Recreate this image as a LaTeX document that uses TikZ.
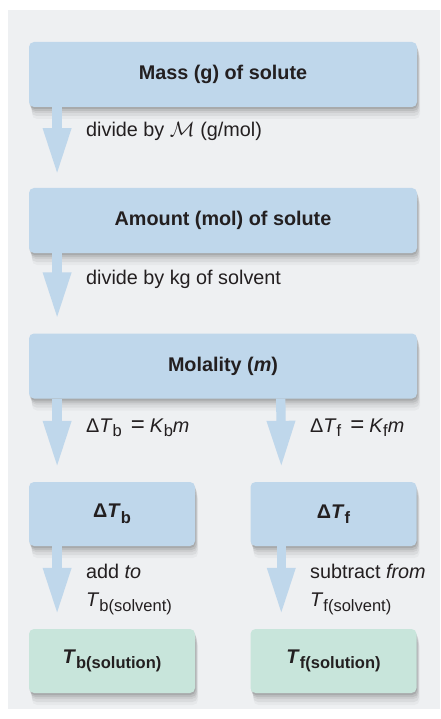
\documentclass[tikz,border=0pt]{standalone}
\usepackage{fontspec}
\setmainfont{Liberation Sans}
\usetikzlibrary{arrows.meta,shadows}
\definecolor{panel}{RGB}{238,240,242}
\definecolor{boxblue}{RGB}{191,215,235}
\definecolor{boxgreen}{RGB}{200,229,219}
\definecolor{ink}{RGB}{35,31,32}
\newcommand\lsub[1]{\raisebox{-5.5pt}{\fontsize{16.5}{18}\selectfont #1}}
\newcommand\msub[1]{\raisebox{-4pt}{\fontsize{16.5}{18}\selectfont #1}}
\newcommand\eqsign{\hspace{9pt}{\fontsize{24}{24}\selectfont=}\hspace{5pt}}
\tikzset{
  softshadow/.style={
    general shadow={shadow yshift=-2pt, shadow xshift=0.5pt, fill=black, opacity=0.10},
    general shadow={shadow yshift=-4pt, shadow xshift=1.5pt, fill=black, opacity=0.08},
    general shadow={shadow yshift=-6pt, shadow xshift=2pt, fill=black, opacity=0.06},
    general shadow={shadow yshift=-9pt, shadow xshift=2.5pt, fill=black, opacity=0.05},
    general shadow={shadow yshift=-12pt, shadow xshift=3pt, fill=black, opacity=0.03}},
  box/.style={rounded corners=5pt, fill=boxblue, inner sep=0pt, softshadow,
    text=ink, font=\fontsize{19.8}{24}\selectfont\bfseries},
  widebox/.style={box, minimum width=388pt, minimum height=65pt},
  smallbox/.style={box, minimum width=166pt, minimum height=64pt},
  greenbox/.style={smallbox, fill=boxgreen},
  lbl/.style={anchor=base west, inner sep=0pt, text=ink, font=\fontsize{19.8}{24}\selectfont},
  flow/.style={draw=boxblue, line width=9.3pt, -{Triangle[width=26pt,length=47pt]}}
}
\begin{document}
\begin{tikzpicture}[x=1pt,y=-1pt]
\useasboundingbox (0,0) rectangle (440,719);
\fill[panel] (8,10) rectangle (440,709);
% boxes
\node[widebox] (b1) at (223,74.5) {Mass (g) of solute};
\node[widebox] (b2) at (223,220.5) {Amount (mol) of solute};
\node[widebox] (b3) at (223,366) {Molality (\textit{m})};
\node[smallbox] (b4) at (112,514) {Δ\textit{T}\lsub{b}};
\node[smallbox] (b5) at (333.5,514) {Δ\textit{T}\lsub{f}};
\node[greenbox] (b6) at (112,661) {\textit{T}\lsub{b(solution)}};
\node[greenbox] (b7) at (333.5,661) {\textit{T}\lsub{f(solution)}};
% arrows
\draw[flow] ([xshift=28.3pt]b1.south west) -- ([xshift=28.3pt,yshift=12.7pt]b2.north west);
\draw[flow] ([xshift=28.3pt]b2.south west) -- ([xshift=28.3pt,yshift=14pt]b3.north west);
\draw[flow] ([xshift=28.3pt]b3.south west) -- ([xshift=28.3pt,yshift=14pt]b4.north west);
\draw[flow] ([xshift=252pt]b3.south west) -- ([xshift=31pt,yshift=14pt]b5.north west);
\draw[flow] ([xshift=28.3pt]b4.south west) -- ([xshift=28.3pt,yshift=14pt]b6.north west);
\draw[flow] ([xshift=31pt]b5.south west) -- ([xshift=31pt,yshift=14pt]b7.north west);
% labels
\node[lbl] (l1) at (86,137) {divide by $\mathcal{M}$ (g/mol)};
\node[lbl] (l2) at (86,284) {divide by kg of solvent};
\node[lbl] (l3) at (86,432) {Δ\textit{T}\msub{b}\eqsign\textit{K}\msub{b}\textit{m}};
\node[lbl] (l4) at (310,432) {Δ\textit{T}\msub{f}\eqsign\textit{K}\msub{f}\textit{m}};
\node[lbl] (l5) at (86,578) {add \textit{to}};
\node[lbl] (l6) at (86,606) {\textit{T}\lsub{b(solvent)}};
\node[lbl] (l7) at (310,578) {subtract \textit{from}};
\node[lbl] (l8) at (310,606) {\textit{T}\lsub{f(solvent)}};
\end{tikzpicture}
\end{document}
